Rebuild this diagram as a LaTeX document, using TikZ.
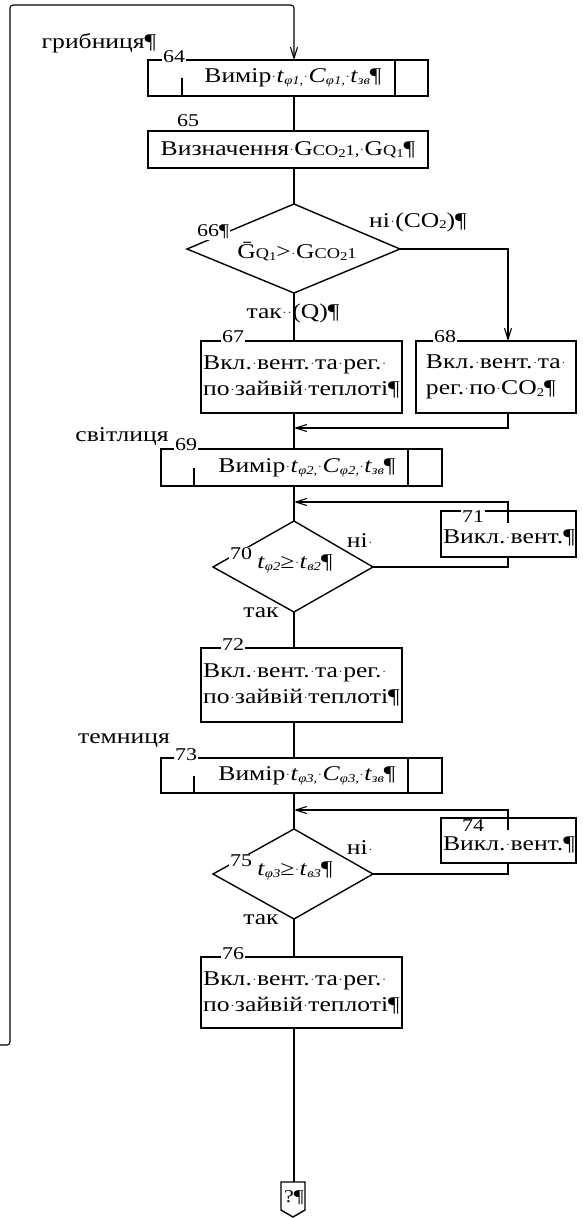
\documentclass[tikz,border=0pt]{standalone}
\usepackage{fontspec}
\setmainfont{Liberation Serif}[FakeStretch=1.22]
\usetikzlibrary{arrows.meta}
\newcommand\wsp{\makebox[0.25em]{\raisebox{0.4ex}{\fontsize{5}{5}\selectfont\textbullet}}}
\newcommand\smq[1]{{\fontsize{15}{15}\selectfont #1}}
\newcommand\subs[1]{\raisebox{-0.2ex}{\fontsize{12}{12}\selectfont #1}}
\begin{document}
\begin{tikzpicture}[x=1pt,y=-1pt,
  every node/.style={inner sep=0pt, outer sep=0pt},
  box/.style={draw, line width=1.1pt, rectangle, fill=white, font=\fontsize{21}{26}\selectfont},
  lbl/.style={fill=white, font=\fontsize{18}{18}\selectfont, inner sep=1pt},
  txt/.style={font=\fontsize{21}{25}\selectfont},
  conn/.style={line width=1.1pt},
  arr/.style={conn, -{Straight Barb[length=11pt,width=7pt]}},
  dia/.style={draw, line width=1.4pt, line join=miter},
]
\useasboundingbox (0,0) rectangle (582,1218);
\coordinate (mx) at (294,0);
\coordinate (rx) at (508,0);

% boxes
\node[box, minimum width=280, minimum height=36] (b64) at (288,78) {};
\node[txt] (t64) at (293,78) {Вимір\wsp\textit{t}\subs{\textit{φ1,}}\wsp\textit{C}\subs{\textit{φ1,}}\wsp\textit{t}\subs{\textit{зв}}¶};
\draw[conn] ([xshift=34]b64.south west) -- ++(0,-18);
\draw[conn] ([xshift=-33]b64.north east) -- ([xshift=-33]b64.south east);
\node[lbl] (l64) at (174,57) {64};

\node[box, minimum width=280, minimum height=37] (b65) at (288,149.5) {Визначення\wsp G\smq{CO}\subs{2}\smq{1,}\wsp G\smq{Q}\subs{1}¶};
\node[lbl] (l65) at (188,121) {65};

% diamond 66
\coordinate (d66t) at (294,204);
\coordinate (d66l) at (187,249);
\coordinate (d66r) at (400,249);
\coordinate (d66b) at (294,293);
\draw[dia] (d66t) -- (d66r) -- (d66b) -- (d66l) -- cycle;
\node[lbl] (l66) at (213,232) {66¶};
\node[txt] (t66) at (297,252) {\={G}\smq{Q}\subs{1}>\wsp G\smq{CO}\subs{2}\smq{1}};
\node[txt] (n66) at (418,222) {ні\wsp(CO\subs{2})¶};
\node[txt] (y66) at (293,313) {так\wsp\wsp(Q)¶};

\node[box, minimum width=201, minimum height=72, align=left] (b67) at (301.5,377) {Вкл.\wsp вент.\wsp та\wsp рег.\wsp\\по\wsp зайвій\wsp теплоті¶};
\node[lbl] (l67) at (233,337) {67};
\node[box, minimum width=160, minimum height=72, align=left] (b68) at (496,377) {Вкл.\wsp вент.\wsp та\wsp\\рег.\wsp по\wsp CO\subs{2}¶};
\node[lbl] (l68) at (445,337) {68};

% svitlytsia
\node[txt] (s1) at (122,437) {світлиця};
\node[box, minimum width=281, minimum height=37] (b69) at (301.5,467.5) {};
\node[txt] (t69) at (307,468) {Вимір\wsp\textit{t}\subs{\textit{φ2,}}\wsp\textit{C}\subs{\textit{φ2,}}\wsp\textit{t}\subs{\textit{зв}}¶};
\draw[conn] ([xshift=33]b69.south west) -- ++(0,-18);
\draw[conn] ([xshift=-34]b69.north east) -- ([xshift=-34]b69.south east);
\node[lbl] (l69) at (186,445) {69};

\node[box, minimum width=135, minimum height=46] (b71) at (508.5,534) {};
\node[txt] (t71) at (509,538) {Викл.\wsp вент.¶};
\node[lbl] (l71) at (473,517) {71};
\coordinate (e71) at (508,523);

\coordinate (d70t) at (294,521);
\coordinate (d70l) at (213,567);
\coordinate (d70r) at (373,567);
\coordinate (d70b) at (294,612);
\draw[dia] (d70t) -- (d70r) -- (d70b) -- (d70l) -- cycle;
\node[lbl] (l70) at (241,554) {70};
\node[fill=white, font=\fontsize{21}{25}\selectfont, inner sep=1pt] (t70) at (295,564) {\textit{t}\subs{\textit{φ2}}≥\wsp\textit{t}\subs{\textit{в2}}¶};
\node[txt] (n70) at (360,541) {ні\wsp};
\node[txt] (y70) at (261,613) {так};

\node[box, minimum width=201, minimum height=74, align=left] (b72) at (301.5,685) {Вкл.\wsp вент.\wsp та\wsp рег.\wsp\\по\wsp зайвій\wsp теплоті¶};
\node[lbl] (l72) at (233,645) {72};

% temnytsia
\node[txt] (s2) at (124,741) {темниця};
\node[box, minimum width=281, minimum height=35] (b73) at (301.5,775.5) {};
\node[txt] (t73) at (307,776) {Вимір\wsp\textit{t}\subs{\textit{φ3,}}\wsp\textit{C}\subs{\textit{φ3,}}\wsp\textit{t}\subs{\textit{зв}}¶};
\draw[conn] ([xshift=33]b73.south west) -- ++(0,-17);
\draw[conn] ([xshift=-34]b73.north east) -- ([xshift=-34]b73.south east);
\node[lbl] (l73) at (186,755) {73};

\node[box, minimum width=135, minimum height=45] (b74) at (508.5,840.5) {};
\node[txt] (t74) at (509,845) {Викл.\wsp вент.¶};
\node[lbl] (l74) at (473,826) {74};
\coordinate (e74) at (508,830);

\coordinate (d75t) at (294,829);
\coordinate (d75l) at (213,874);
\coordinate (d75r) at (373,874);
\coordinate (d75b) at (294,919);
\draw[dia] (d75t) -- (d75r) -- (d75b) -- (d75l) -- cycle;
\node[lbl] (l75) at (241,861) {75};
\node[fill=white, font=\fontsize{21}{25}\selectfont, inner sep=1pt] (t75) at (295,871) {\textit{t}\subs{\textit{φ3}}≥\wsp\textit{t}\subs{\textit{в3}}¶};
\node[txt] (n75) at (360,848) {ні\wsp};
\node[txt] (y75) at (261,920) {так};

\node[box, minimum width=201, minimum height=71, align=left] (b76) at (301.5,992.5) {Вкл.\wsp вент.\wsp та\wsp рег.\wsp\\по\wsp зайвій\wsp теплоті¶};
\node[lbl] (l76) at (233,954) {76};

% terminator
\coordinate (tt) at (293,1182);
\draw[line width=1.4pt] (281,1182) -- (305,1182) -- (305,1210) -- (293,1217) -- (281,1210) -- cycle;
\node[font=\fontsize{18}{18}\selectfont] (tq) at (294,1198) {?¶};

% connectors
\coordinate (lp0) at (0,1045);
\draw[arr, rounded corners=3] (lp0) -- (10,1045) -- (10,5) -- (294,5) -- (b64.north -| mx);
\draw[conn] (b64.south -| mx) -- (b65.north -| mx);
\draw[conn] (b65.south -| mx) -- (d66t);
\draw[conn] (d66b) -- (b67.north -| mx);
\draw[arr] (d66r) -- (d66r -| rx) -- (b68.north -| rx);
\draw[arr] (b68.south -| rx) -- (508,428) -- (mx |- 0,428);
\draw[conn] (b67.south -| mx) -- (b69.north -| mx);
\draw[conn] (b69.south -| mx) -- (d70t);
\draw[arr] (e71) -- (508,502) -- (mx |- 0,502);
\draw[conn] (d70r) -- (d70r -| rx) -- (b71.south -| rx);
\draw[conn] (d70b) -- (b72.north -| mx);
\draw[conn] (b72.south -| mx) -- (b73.north -| mx);
\draw[conn] (b73.south -| mx) -- (d75t);
\draw[arr] (e74) -- (508,810) -- (mx |- 0,810);
\draw[conn] (d75r) -- (d75r -| rx) -- (b74.south -| rx);
\draw[conn] (d75b) -- (b76.north -| mx);
\draw[conn] (b76.south -| mx) -- (tt -| mx);

\node[txt] (g1) at (99,43) {грибниця¶};
\end{tikzpicture}
\end{document}
